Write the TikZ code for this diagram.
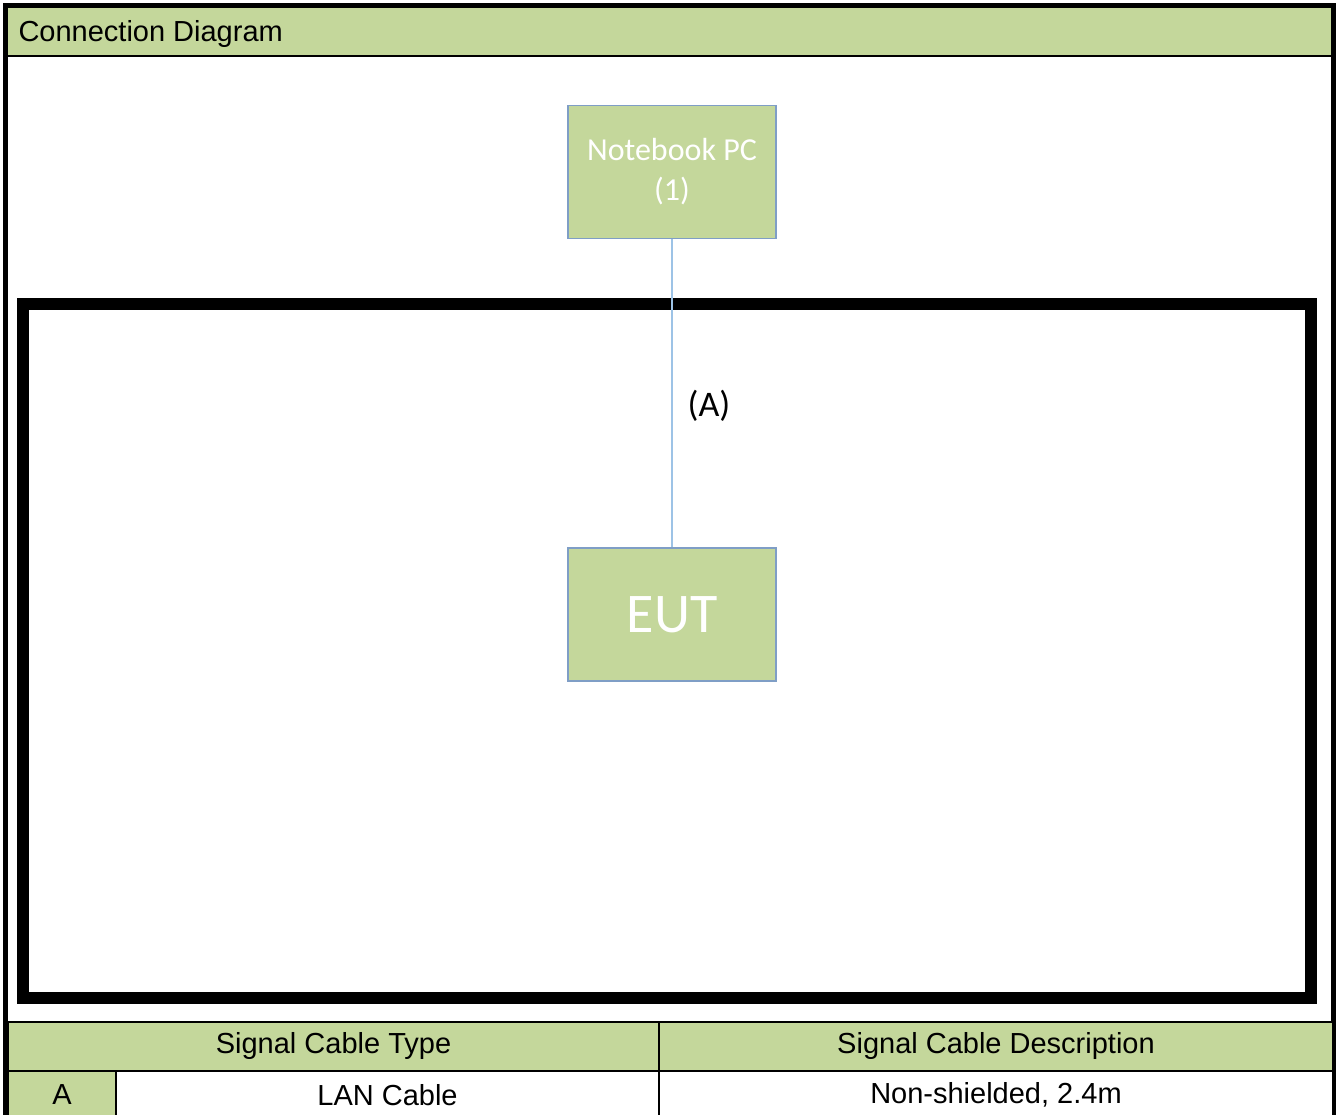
\documentclass[tikz,border=0pt]{standalone}
\usepackage{fontspec}
\setmainfont{Liberation Sans}
\newfontfamily\calibri{Carlito}
\usetikzlibrary{positioning}
\definecolor{cellgreen}{HTML}{C4D79B}
\definecolor{boxblue}{HTML}{7F9EC6}
\definecolor{cableblue}{HTML}{9DC3E6}
\begin{document}
\begin{tikzpicture}[x=1pt,y=-1pt,
    unit/.style={rectangle,draw=boxblue,line width=1.8pt,fill=cellgreen,text=white,align=center,
      font=\calibri\fontsize{32}{40}\selectfont,minimum width=208pt,minimum height=133pt},
    cell/.style={rectangle,draw=black,line width=2pt,minimum height=49pt,inner sep=0pt,
      font=\fontsize{29}{35}\selectfont},
    cable/.style={draw=cableblue,line width=1.8pt}]
    \useasboundingbox (0,0) rectangle (1336,1115);
    % title bar and frame
    \fill[cellgreen] (5,5) rectangle (1333,56);
    \node[anchor=west,font=\fontsize{29}{35}\selectfont] (title) at (15,34) {Connection Diagram};
    \draw[line width=2.5pt] (5,56) -- (1333,56);
    \draw[line width=5pt] (5,1125) -- (5,5.5) -- (1333.5,5.5) -- (1333.5,1125);
    \draw[line width=12pt] (23,304) rectangle (1311,998);
    % units
    \node[unit] (nb) at (672,172) {Notebook PC\\(1)};
    \node[unit,font=\calibri\fontsize{56}{60}\selectfont,below=308pt of nb] (eut) {EUT};
    \path[cable] (nb) -- (eut);
    \node[font=\calibri\fontsize{36}{40}\selectfont] (lblA) at (709,406) {(A)};
    % cable table
    \node[cell,fill=cellgreen,minimum width=651pt] (hdrtype) at (333.5,1046) {Signal Cable Type};
    \node[cell,fill=cellgreen,minimum width=674pt] (hdrdesc) at (996,1046) {Signal Cable Description};
    \node[cell,fill=cellgreen,minimum width=108pt] (idA) at (62,1095) {A};
    \node[cell,fill=white,minimum width=543pt] (typeA) at (387.5,1095) {LAN Cable};
    \node[cell,fill=white,minimum width=674pt] (descA) at (996,1095) {Non-shielded, 2.4m};
\end{tikzpicture}
\end{document}
